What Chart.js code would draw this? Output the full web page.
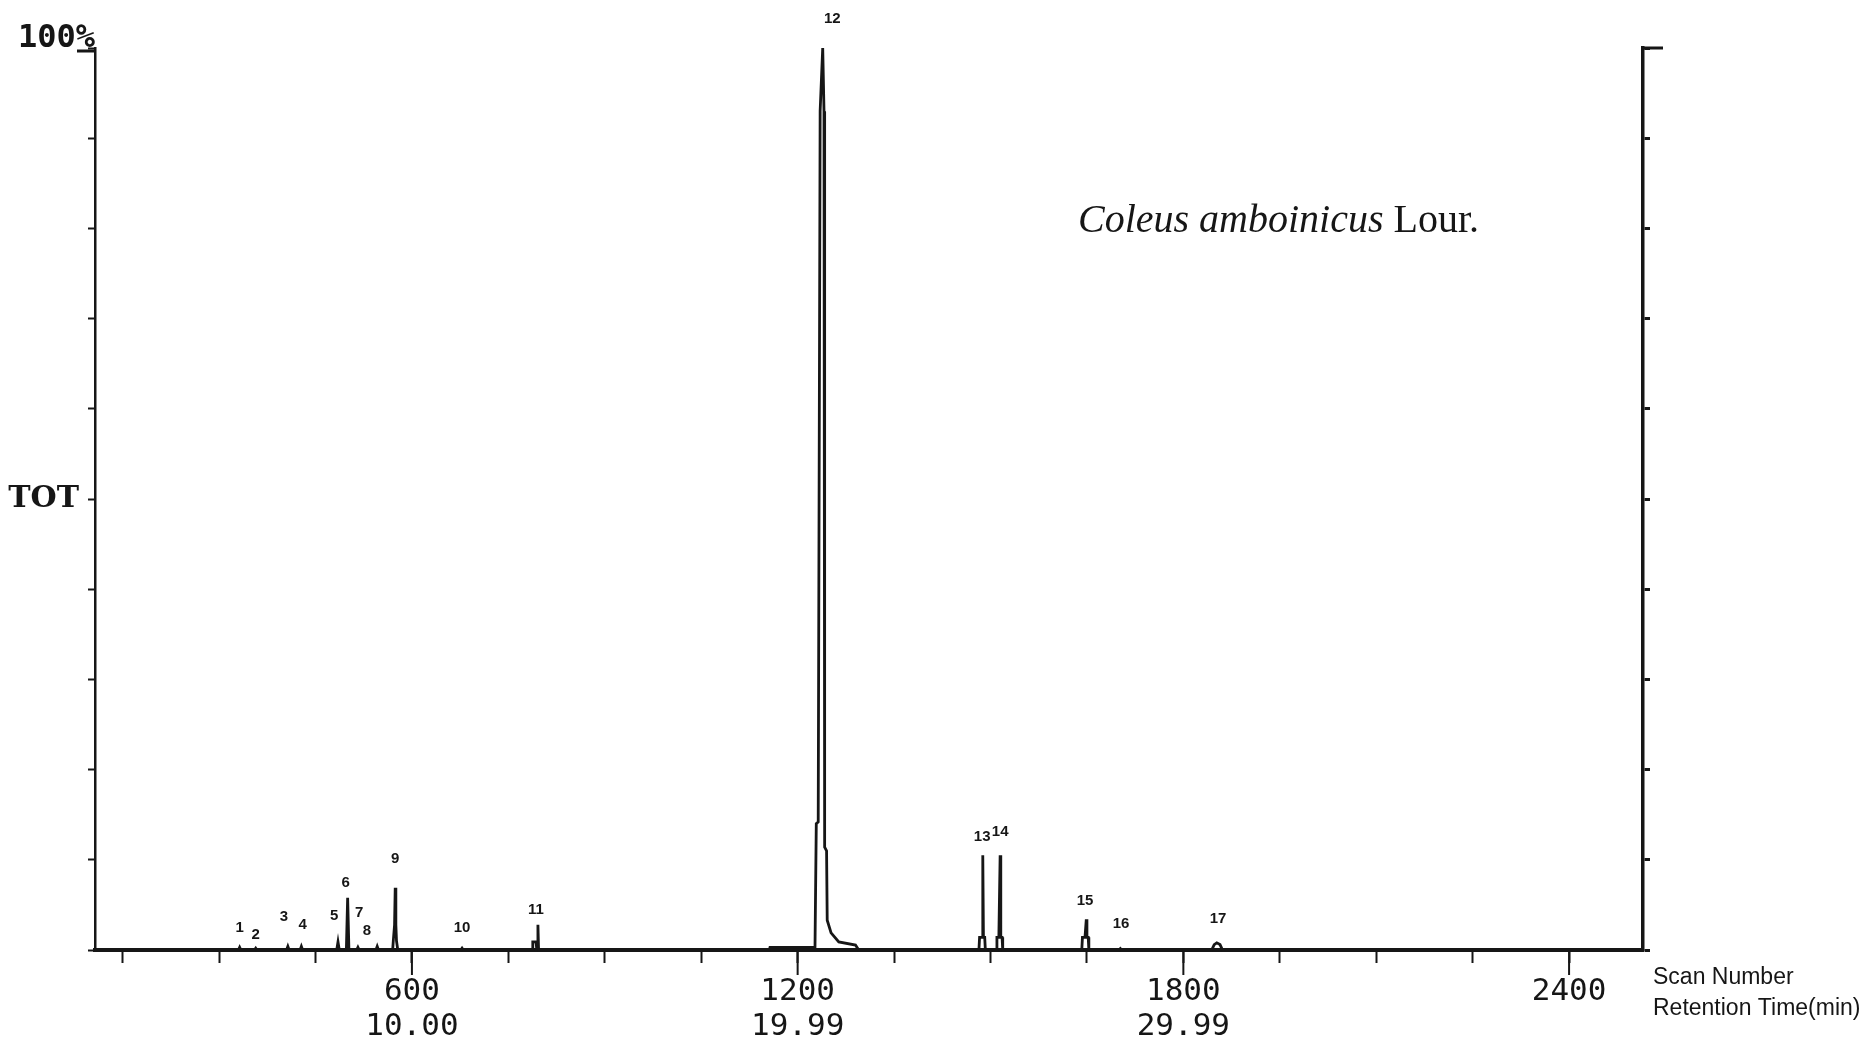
<!DOCTYPE html>
<html>
<head>
<meta charset="utf-8">
<title>Coleus amboinicus Lour. - TOT chromatogram</title>
<script src="https://cdn.jsdelivr.net/npm/chart.js@4.4.1/dist/chart.umd.min.js"></script>
<style>
    body { margin: 0; background: #ffffff; }
    #chartBox { width: 1869px; height: 1045px; }
</style>
</head>
<body>
<div id="chartBox"><canvas id="ticChart" width="1869" height="1045"></canvas></div>
<script>
// trace: scan number -> relative intensity (%)
const scans = [107,
    330, 332, 334,
    355, 357, 359,
    405, 407, 409,
    426, 428, 430,
    483, 485, 487,
    498, 500, 502,
    514, 516, 518,
    544, 546, 548,
    570, 571, 573, 574, 575, 576, 578,
    676, 678, 680,
    787, 788, 793, 794, 795, 796, 797,
    1156, 1157, 1227, 1228,
    1229, 1232, 1235, 1239, 1241, 1242, 1245, 1246, 1252, 1264, 1290, 1295,
    1482, 1483, 1487, 1488, 1489, 1491, 1492,
    1509, 1510, 1513, 1515, 1516, 1518, 1519,
    1642, 1643, 1647, 1649, 1650, 1652, 1653,
    1700, 1702, 1704,
    1844, 1848, 1852, 1857, 1861,
    2515]

const tot = [0,
    0, 0.3, 0,
    0, 0.2, 0,
    0, 0.4, 0,
    0, 0.4, 0,
    0, 0.9, 0,
    0, 5.8, 0,
    0, 0.3, 0,
    0, 0.4, 0,
    0, 1.0, 2.8, 6.9, 2.8, 1.0, 0,
    0, 0.2, 0,
    0, 0.9, 0.9, 0.2, 0.2, 2.8, 0,
    0, 0.3, 0.3, 0.3,
    14, 14.2, 93, 100, 93, 11.4, 11, 3.3, 1.9, 0.9, 0.55, 0,
    0, 1.4, 1.4, 10.5, 1.4, 1.4, 0,
    0, 1.4, 1.4, 10.5, 1.4, 1.4, 0,
    0, 1.4, 1.4, 3.4, 1.4, 1.4, 0,
    0, 0.15, 0,
    0, 0.6, 0.8, 0.6, 0,
    0]

// axis ticks
const xTicks = [150, 300, 450, 600, 750, 900, 1050, 1200, 1350, 1500, 1650, 1800, 1950, 2100, 2250, 2400]
const majorScans = [600, 1200, 1800, 2400]
const retentionTimes = ["10.00", "19.99", "29.99", ""]

// peak numbers and where they are written (scan, % level)
const peakIds = ["1", "2", "3", "4", "5", "6", "7", "8", "9", "10", "11", "12", "13", "14", "15", "16", "17"]
const peakLabelScan = [332, 357, 401, 430, 479, 497, 518, 530, 574, 678, 793, 1254, 1487, 1515, 1647, 1703, 1854]
const peakLabelLevel = [2.5, 1.7, 3.7, 2.8, 3.8, 7.4, 4.1, 2.1, 10.1, 2.4, 4.4, 103.2, 12.5, 13.1, 5.4, 2.9, 3.4]

const INK = "#161616"

const annotatePlugin = {
    id: "annotate",
    afterDraw(chart) {
        const ctx = chart.ctx
        const xs = chart.scales.x
        const ys = chart.scales.y
        const area = chart.chartArea
        ctx.save()
        ctx.fillStyle = INK
        ctx.strokeStyle = INK

        // longer marks under the numbered scans
        ctx.lineWidth = 2
        majorScans.forEach(s => {
            const px = xs.getPixelForValue(s)
            ctx.beginPath()
            ctx.moveTo(px, area.bottom)
            ctx.lineTo(px, area.bottom + 25)
            ctx.stroke()
        })

        // long marks at 100%
        const top = ys.getPixelForValue(100)
        ctx.lineWidth = 3
        ctx.beginPath()
        ctx.moveTo(area.left - 18, top + 3)
        ctx.lineTo(area.left, top + 3)
        ctx.moveTo(area.right, top)
        ctx.lineTo(area.right + 20, top)
        ctx.stroke()

        // peak numbers
        ctx.font = "bold 15px 'Liberation Sans', Arial, sans-serif"
        ctx.textAlign = "center"
        ctx.textBaseline = "middle"
        peakIds.forEach((id, i) => {
            ctx.fillText(id, xs.getPixelForValue(peakLabelScan[i]), ys.getPixelForValue(peakLabelLevel[i]))
        })

        ctx.font = "bold 32px 'DejaVu Sans Mono', monospace"
        ctx.textAlign = "right"
        ctx.fillText("100%", area.left, top - 9)

        // axis names
        ctx.font = "23px 'Liberation Sans', Arial, sans-serif"
        ctx.textAlign = "left"
        ctx.fillText("Scan Number", area.right + 10, 978)
        ctx.fillText("Retention Time(min)", area.right + 10, 1009)

        // sample name
        ctx.textBaseline = "alphabetic"
        const italicPart = "Coleus amboinicus "
        ctx.font = "italic 40px 'Liberation Serif', serif"
        ctx.fillText(italicPart, 1078, 232)
        const w = ctx.measureText(italicPart).width
        ctx.font = "40px 'Liberation Serif', serif"
        ctx.fillText("Lour.", 1078 + w, 232)

        ctx.restore()
    }
}

function xLabel(value) {
    const i = majorScans.indexOf(value)
    if (i < 0) return ""
    if (!retentionTimes[i]) return String(value)
    return [String(value), retentionTimes[i]]
}

function drawChromatogram() {
    const ctx = document.getElementById("ticChart")

    new Chart(ctx.getContext("2d"), {
        type: "line",
        data: {
            datasets: [{
                label: "TOT",
                data: scans.map((s, i) => ({ x: s, y: tot[i] })),
                borderColor: INK,
                borderWidth: 2.8,
                pointRadius: 0,
                tension: 0,
                fill: false,
                clip: false
            }]
        },
        options: {
            responsive: false,
            animation: false,
            layout: { padding: { top: 48, left: 0, right: 0, bottom: 0 } },
            plugins: {
                legend: { display: false },
                tooltip: { enabled: false }
            },
            scales: {
                x: {
                    type: "linear",
                    min: 107,
                    max: 2515,
                    afterBuildTicks: scale => { scale.ticks = xTicks.map(v => ({ value: v })) },
                    afterFit: scale => { scale.height = 95 },
                    grid: { drawOnChartArea: false, drawTicks: true, tickLength: 13, tickWidth: 2, tickColor: INK },
                    border: { display: true, color: INK, width: 4 },
                    ticks: {
                        autoSkip: false,
                        maxRotation: 0,
                        padding: 11,
                        color: INK,
                        font: { family: "'DejaVu Sans Mono', monospace", size: 31, lineHeight: 1.13 },
                        callback: value => xLabel(value)
                    }
                },
                y: {
                    position: "left",
                    min: 0,
                    max: 100,
                    afterFit: scale => { scale.width = 95 },
                    grid: { drawOnChartArea: false, drawTicks: true, tickLength: 7, tickWidth: 2, tickColor: INK },
                    border: { display: true, color: INK, width: 2.5 },
                    ticks: {
                        stepSize: 10,
                        padding: 9,
                        color: INK,
                        font: { family: "'DejaVu Serif', serif", size: 30, weight: "bold" },
                        callback: value => (value === 50 ? "TOT" : "")
                    }
                },
                y2: {
                    position: "right",
                    min: 0,
                    max: 100,
                    afterFit: scale => { scale.width = 226 },
                    grid: { drawOnChartArea: false, drawTicks: true, tickLength: 7, tickWidth: 3, tickColor: INK },
                    border: { display: true, color: INK, width: 3.5 },
                    ticks: { stepSize: 10, callback: () => "" }
                }
            }
        },
        plugins: [annotatePlugin]
    })
}

document.addEventListener("DOMContentLoaded", function () {
    drawChromatogram()
})
</script>
</body>
</html>
